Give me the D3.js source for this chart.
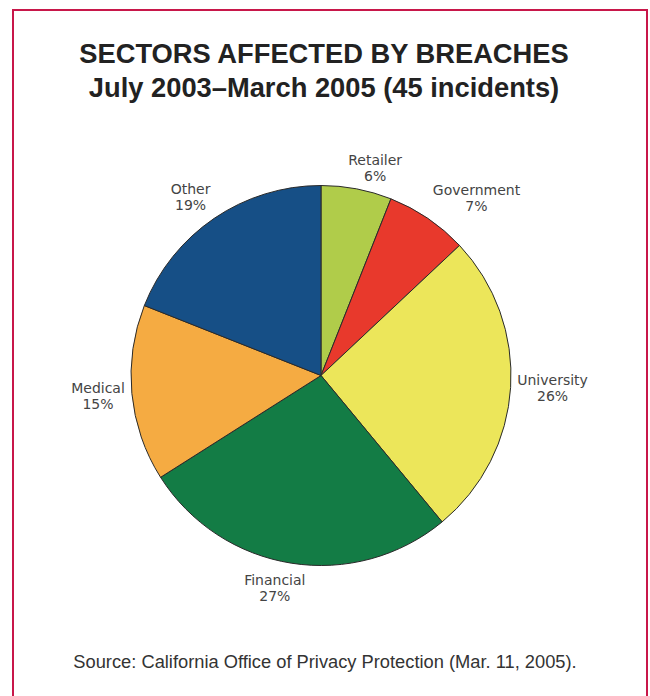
<!DOCTYPE html>
<html><head><meta charset="utf-8">
<script src="https://cdn.jsdelivr.net/npm/d3@7"></script>
<style>html,body{margin:0;padding:0;background:#fff;}</style>
</head><body>
<svg id="c" width="650" height="696"></svg>
<script>
const categories = ["Retailer","Government","University","Financial","Medical","Other"];
const values = [6,7,26,27,15,19];
const colors = ["#b0cc4a","#e8392c","#ece65a","#137c45","#f5ab42","#164f86"];
// label nudges (layout only)
const labelNudge = [[12,14],[29,9],[7,-1.5],[-11,-9.5],[1,-0.5],[-4,8]];

const svg = d3.select("#c");
svg.append("rect").attr("x",13).attr("y",10).attr("width",634).attr("height",700)
  .attr("fill","none").attr("stroke","#c8174a").attr("stroke-width",2);

svg.append("text").attr("x",324).attr("y",63).attr("text-anchor","middle")
  .attr("font-family","Liberation Sans, Arial, sans-serif").attr("font-weight","bold")
  .attr("font-size",27.3).attr("fill","#222").text("SECTORS AFFECTED BY BREACHES");
svg.append("text").attr("x",324).attr("y",97).attr("text-anchor","middle")
  .attr("font-family","Liberation Sans, Arial, sans-serif").attr("font-weight","bold")
  .attr("font-size",27.3).attr("fill","#222").text("July 2003\u2013March 2005 (45 incidents)");

const cx=321, cy=375.5, r=190;
const g = svg.append("g").attr("transform",`translate(${cx},${cy})`);
const pie = d3.pie().sort(null).value(d=>d);
const arcs = pie(values);
const arc = d3.arc().innerRadius(0).outerRadius(r);
g.selectAll("path").data(arcs).enter().append("path")
  .attr("d",arc).attr("fill",(d,i)=>colors[i])
  .attr("stroke","#2a2a2a").attr("stroke-width",1).attr("stroke-linejoin","round");

const lr=225;
const lab = g.selectAll("text.l").data(arcs).enter().append("text")
  .attr("class","l").attr("text-anchor","middle")
  .attr("font-family","DejaVu Sans, Verdana, sans-serif").attr("font-size",14).attr("fill","#444")
  .attr("transform",(d,i)=>{const a=(d.startAngle+d.endAngle)/2;
     return `translate(${lr*Math.sin(a)+labelNudge[i][0]},${-lr*Math.cos(a)+labelNudge[i][1]})`;});
lab.append("tspan").attr("x",0).attr("y",-3).text((d,i)=>categories[i]);
lab.append("tspan").attr("x",0).attr("y",13).text((d,i)=>values[i]+"%");

svg.append("text").attr("x",325).attr("y",668).attr("text-anchor","middle")
  .attr("font-family","Liberation Sans, Arial, sans-serif").attr("font-size",18.3).attr("fill","#333")
  .text("Source: California Office of Privacy Protection (Mar. 11, 2005).");
</script>
</body></html>
